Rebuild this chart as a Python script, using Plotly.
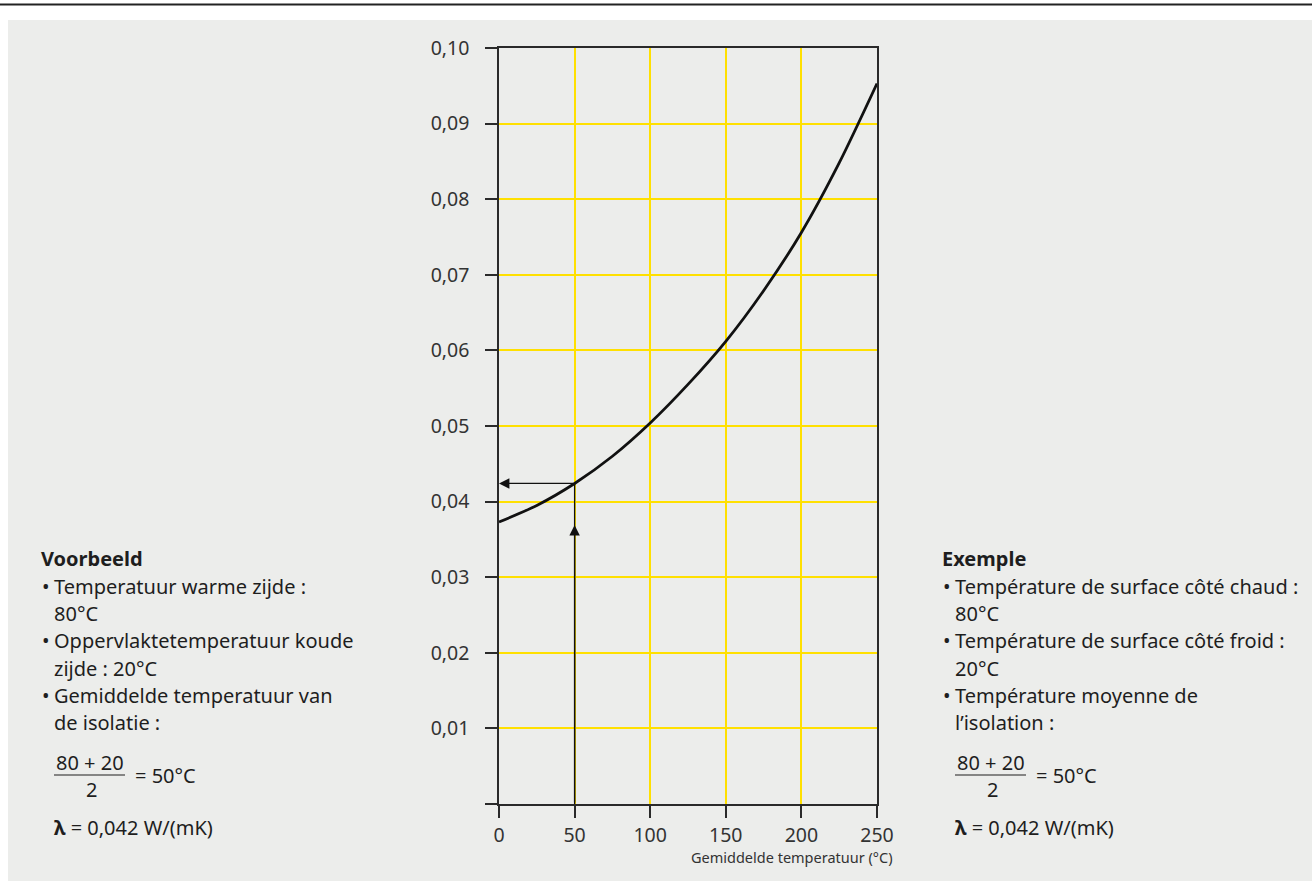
import plotly.graph_objects as go

# ---------------- data ----------------
temps = [0, 25, 50, 75, 100, 125, 150, 175, 200, 225, 250]
lambda_vals = [0.0373, 0.0395, 0.0424, 0.0460, 0.0504, 0.0555, 0.0612, 0.0679, 0.0756, 0.0848, 0.0953]

x_ticks = [0, 50, 100, 150, 200, 250]
x_ticklabels = ["0", "50", "100", "150", "200", "250"]
y_ticks = [0, 0.01, 0.02, 0.03, 0.04, 0.05, 0.06, 0.07, 0.08, 0.09, 0.10]
y_ticklabels = ["", "0,01", "0,02", "0,03", "0,04", "0,05", "0,06", "0,07", "0,08", "0,09", "0,10"]

example_T = 50
example_lambda = 0.0424
arrow_head_level = 0.0369

x_title = "Gemiddelde temperatuur (°C)"

left_title = "Voorbeeld"
left_lines = [("•", "Temperatuur warme zijde :"), ("", "80°C"),
              ("•", "Oppervlaktetemperatuur koude"), ("", "zijde : 20°C"),
              ("•", "Gemiddelde temperatuur van"), ("", "de isolatie :")]
right_title = "Exemple"
right_lines = [("•", "Température de surface côté chaud :"), ("", "80°C"),
               ("•", "Température de surface côté froid :"), ("", "20°C"),
               ("•", "Température moyenne de"), ("", "l’isolation :")]
frac_num = "80 + 20"
frac_den = "2"
frac_res = "= 50°C"
lambda_text = "<b>λ</b> = 0,042 W/(mK)"

# ---------------- layout geometry (pixels) ----------------
W, H = 1312, 881
L, R, T, B = 499, 435, 48, 77
PW = W - L - R
PH = H - T - B
Y0 = H - B  # pixel row of y=0

def xp(px):
    return (px - L) / PW

def yp(py):
    return (Y0 - py) / PH

BG = "#ECEDEB"
YEL = "#FFE000"
AX = "#2a2a2a"
TXT = "#1e1e1e"
FONT = "Noto Sans"
FS = 20

fig = go.Figure()

fig.add_trace(go.Scatter(x=temps, y=lambda_vals, mode="lines",
                         line=dict(color="#111111", width=2.8, shape="spline", smoothing=0.8),
                         hoverinfo="skip", showlegend=False))
# vertical guide line
fig.add_trace(go.Scatter(x=[example_T, example_T], y=[0, example_lambda], mode="lines",
                         line=dict(color="#111111", width=1.3), hoverinfo="skip", showlegend=False))

annotations = []
# arrow heads
annotations.append(dict(x=example_T, y=arrow_head_level, ax=example_T, ay=0,
                        xref="x", yref="y", axref="x", ayref="y", text="",
                        showarrow=True, arrowhead=2, arrowsize=1.6, arrowwidth=1.3,
                        arrowcolor="#111111", standoff=0))
annotations.append(dict(x=0, y=example_lambda, ax=example_T, ay=example_lambda,
                        xref="x", yref="y", axref="x", ayref="y", text="",
                        showarrow=True, arrowhead=2, arrowsize=1.6, arrowwidth=1.3,
                        arrowcolor="#111111", standoff=0))

def txt(s, px, py, anchor="left", size=FS, color=TXT):
    annotations.append(dict(text=s, x=xp(px), y=yp(py), xref="paper", yref="paper",
                            xanchor=anchor, yanchor="middle", showarrow=False,
                            font=dict(family=FONT, size=size, color=color)))

line_y = [586, 613, 640.5, 668, 695, 722]

def block(title, lines, x0):
    txt("<b>" + title + "</b>", x0 - 2, 558)
    for (b, s), yy in zip(lines, line_y):
        if b:
            txt(b, x0 - 1, yy)
        txt(s, x0 + 11, yy)
    # fraction
    fx0 = x0 + 13
    fw = 71
    txt(frac_num, fx0 + fw / 2, 762, anchor="center")
    txt(frac_den, fx0 + fw / 2 + 2, 789, anchor="center")
    txt(frac_res, fx0 + fw + 8, 775)
    txt(lambda_text, x0 + 11, 828)
    return fx0, fw

shapes = []
for x0 in (41, 942):
    fx0, fw = block(left_title if x0 == 41 else right_title,
                    left_lines if x0 == 41 else right_lines, x0)
    shapes.append(dict(type="line", xref="paper", yref="paper",
                       x0=xp(fx0), x1=xp(fx0 + fw), y0=yp(775), y1=yp(775),
                       line=dict(color=TXT, width=1.2)))

# x-axis title
txt(x_title, 895, 857, anchor="right", size=14.5, color="#333333")

# panel background / top rule
shapes.append(dict(type="rect", xref="paper", yref="paper", layer="below",
                   x0=xp(0), x1=xp(W), y0=yp(20), y1=yp(0),
                   fillcolor="white", line=dict(width=0)))
shapes.append(dict(type="rect", xref="paper", yref="paper", layer="below",
                   x0=xp(0), x1=xp(8), y0=yp(H), y1=yp(0),
                   fillcolor="white", line=dict(width=0)))
shapes.append(dict(type="line", xref="paper", yref="paper", layer="above",
                   x0=xp(0), x1=xp(W), y0=yp(4.5), y1=yp(4.5),
                   line=dict(color="#222222", width=2)))

axis_common = dict(showline=True, linecolor=AX, linewidth=1.5, mirror=True,
                   ticks="outside", ticklen=12, tickwidth=1.5, tickcolor=AX,
                   showgrid=True, gridcolor=YEL, gridwidth=1.5, zeroline=False,
                   tickfont=dict(family=FONT, size=19.5, color="#333333"),
                   fixedrange=True)

fig.update_layout(
    width=W, height=H,
    margin=dict(l=L, r=R, t=T, b=B, pad=0),
    paper_bgcolor=BG, plot_bgcolor=BG,
    showlegend=False,
    xaxis=dict(range=[0, 250], tickvals=x_ticks, ticktext=x_ticklabels,
               ticklabelstandoff=1, **axis_common),
    yaxis=dict(range=[0, 0.10], tickvals=y_ticks, ticktext=y_ticklabels,
               ticklabelstandoff=12, **axis_common),
    annotations=annotations,
    shapes=shapes,
    font=dict(family=FONT),
)

fig.write_html("out.html", config={"displayModeBar": False},
               post_script="document.body.style.margin='0';document.body.style.overflow='hidden';")
